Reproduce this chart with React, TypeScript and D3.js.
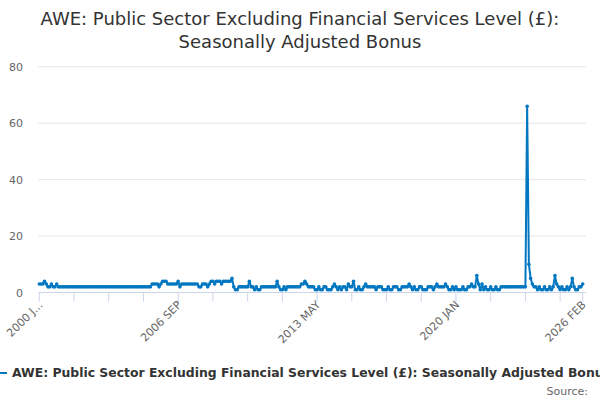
import React from "react";
import * as d3 from "d3";

const title1 = "AWE: Public Sector Excluding Financial Services Level (£):";
const title2 = "Seasonally Adjusted Bonus";
const seriesName = "AWE: Public Sector Excluding Financial Services Level (£): Seasonally Adjusted Bonus";
const sourceText = "Source:";

const startYear = 2000;
const monthNames = ["JAN", "FEB", "MAR", "APR", "MAY", "JUN", "JUL", "AUG", "SEP", "OCT", "NOV", "DEC"];

// Monthly values (£), Jan 2000 – Feb 2026
const values: number[] = [
  3, 3, 3, 4, 3, 2, 2, 3, 2, 2, 3, 2, // 2000
  2, 2, 2, 2, 2, 2, 2, 2, 2, 2, 2, 2, // 2001
  2, 2, 2, 2, 2, 2, 2, 2, 2, 2, 2, 2, // 2002
  2, 2, 2, 2, 2, 2, 2, 2, 2, 2, 2, 2, // 2003
  2, 2, 2, 2, 2, 2, 2, 2, 2, 2, 2, 2, // 2004
  2, 2, 2, 2, 2, 3, 3, 3, 3, 2, 3, 4, // 2005
  4, 4, 3, 3, 3, 3, 3, 3, 4, 2, 3, 3, // 2006
  3, 3, 3, 3, 3, 3, 3, 3, 2, 2, 3, 3, // 2007
  3, 2, 3, 4, 4, 3, 4, 4, 4, 3, 4, 4, // 2008
  4, 4, 4, 5, 2, 1, 1, 2, 2, 2, 2, 2, // 2009
  2, 4, 2, 2, 1, 2, 1, 1, 2, 2, 2, 2, // 2010
  2, 2, 2, 2, 2, 4, 2, 1, 1, 2, 1, 2, // 2011
  2, 2, 2, 2, 2, 2, 2, 3, 3, 4, 3, 2, // 2012
  2, 2, 2, 1, 1, 2, 1, 1, 2, 2, 1, 1, // 2013
  1, 2, 3, 2, 1, 2, 1, 2, 2, 1, 3, 2, // 2014
  2, 4, 1, 1, 2, 1, 1, 2, 3, 2, 2, 2, // 2015
  2, 2, 1, 2, 2, 2, 1, 1, 1, 2, 1, 1, // 2016
  2, 2, 2, 1, 1, 2, 2, 2, 2, 3, 2, 1, // 2017
  2, 1, 1, 2, 2, 1, 1, 1, 2, 2, 2, 1, // 2018
  2, 3, 2, 2, 2, 2, 3, 2, 1, 1, 2, 1, // 2019
  2, 1, 1, 1, 2, 1, 1, 2, 2, 3, 2, 2, // 2020
  6, 3, 1, 3, 1, 2, 1, 1, 2, 1, 1, 2, // 2021
  1, 1, 2, 2, 2, 2, 2, 2, 2, 2, 2, 2, // 2022
  2, 2, 2, 2, 2, 66, 10, 5, 3, 2, 2, 1, // 2023
  2, 1, 1, 2, 1, 1, 2, 1, 2, 6, 3, 2, // 2024
  1, 2, 1, 1, 2, 1, 2, 5, 2, 1, 1, 2, // 2025
  2, 3, // 2026
];

const categories: string[] = values.map((_, i) => `${startYear + Math.floor(i / 12)} ${monthNames[i % 12]}`);

const yTicks = [0, 20, 40, 60, 80];
const tickEvery = 20;
const labelEvery = 80;
const tickLabelOverrides: Record<string, string> = { "2000 JAN": "2000 J..." };

const W = 600;
const H = 400;
const plotLeft = 39.3;
const plotRight = 582.7;
const plotTop = 66.7;
const plotBottom = 292.5;
const gridRight = 586;
const blue = "#0077c0";
const font = "'DejaVu Sans', sans-serif";

export default function App() {
  const x = d3.scalePoint<string>().domain(categories).range([plotLeft, plotRight]);
  const y = d3.scaleLinear().domain([0, 80]).range([plotBottom, plotTop]);

  const line = d3
    .line<number>()
    .x((_, i) => x(categories[i]) as number)
    .y((d) => y(d));

  const last = categories.length - 1;
  const tickIdx: number[] = [];
  for (let i = 0; i <= last; i += tickEvery) tickIdx.push(i);
  if (tickIdx[tickIdx.length - 1] !== last) tickIdx.push(last);
  const labelIdx = tickIdx.filter((i) => i % labelEvery === 0 || i === last);

  return (
    <svg
      width={W}
      height={H}
      style={{ position: "fixed", left: 0, top: 0, background: "#fff" }}
      fontFamily={font}
    >
      <text x={300} y={25} textAnchor="middle" fontSize={18} fill="#333">
        {title1}
      </text>
      <text x={300} y={48} textAnchor="middle" fontSize={18} fill="#333">
        {title2}
      </text>

      {yTicks.map((t) => (
        <g key={t}>
          {t !== 0 && (
            <line x1={plotLeft - 1} x2={gridRight} y1={y(t)} y2={y(t)} stroke="#e6e6e6" strokeWidth={1} />
          )}
          <text x={23} y={y(t) + 4} textAnchor="end" fontSize={11} fill="#666">
            {t}
          </text>
        </g>
      ))}

      <line x1={plotLeft - 1} x2={gridRight} y1={plotBottom} y2={plotBottom} stroke="#ccd6eb" strokeWidth={1} />
      {tickIdx.map((i) => {
        const px = x(categories[i]) as number;
        return <line key={i} x1={px} x2={px} y1={plotBottom} y2={plotBottom + 9} stroke="#ccd6eb" strokeWidth={1} />;
      })}
      {labelIdx.map((i) => {
        const px = x(categories[i]) as number;
        const label = tickLabelOverrides[categories[i]] ?? categories[i];
        return (
          <text
            key={i}
            transform={`translate(${px + 4},${plotBottom + 13}) rotate(-45)`}
            textAnchor="end"
            fontSize={11}
            fill="#666"
          >
            {label}
          </text>
        );
      })}

      <path d={line(values) ?? ""} fill="none" stroke={blue} strokeWidth={2} strokeLinejoin="round" />
      {values.map((v, i) => (
        <circle key={i} cx={x(categories[i]) as number} cy={y(v)} r={1.8} fill={blue} />
      ))}

      <line x1={-8} x2={7} y1={373} y2={373} stroke={blue} strokeWidth={2} />
      <text x={12} y={377} fontSize={12.4} fontWeight="bold" fill="#333">
        {seriesName}
      </text>
      <text x={588} y={395} textAnchor="end" fontSize={11} fill="#666">
        {sourceText}
      </text>
    </svg>
  );
}
